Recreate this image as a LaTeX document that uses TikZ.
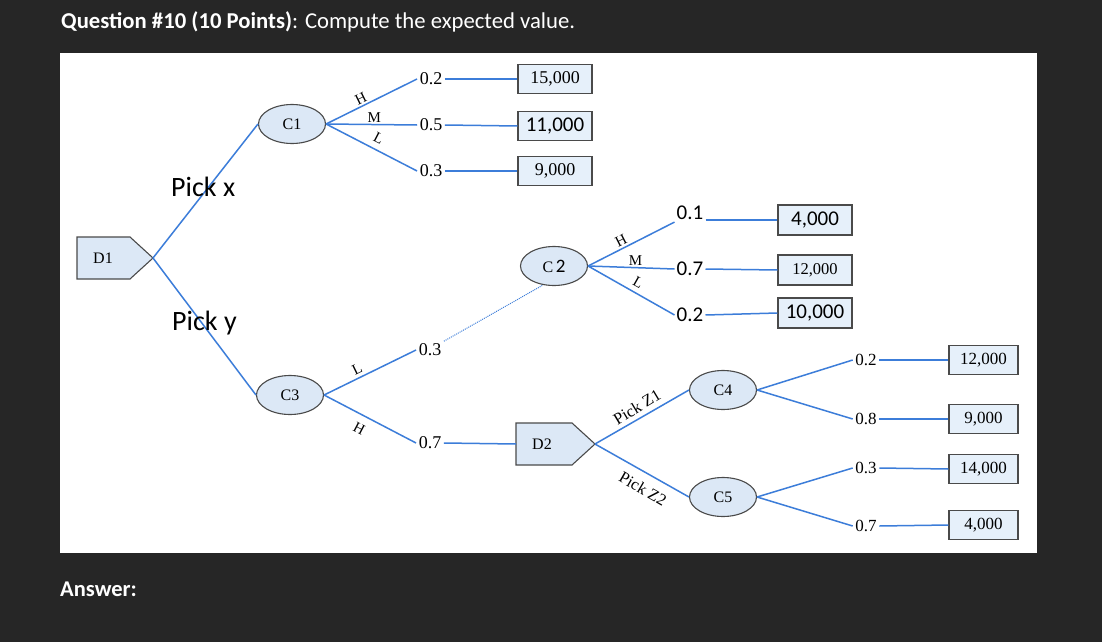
\documentclass[tikz,border=0pt]{standalone}
\usepackage{fontspec}
\setmainfont{Liberation Serif}
\newfontfamily\calib{Carlito}
\usetikzlibrary{shapes.geometric}
\definecolor{bgc}{HTML}{262626}
\definecolor{lblue}{HTML}{3C7DD9}
\definecolor{dgrey}{HTML}{4A4A4A}
\definecolor{nfill}{HTML}{DCE8F6}
\definecolor{lfill}{HTML}{E6F0FA}
\newcommand\tms{\fontsize{18}{21}\selectfont}
\newcommand\tmsn{\fontsize{16}{19}\selectfont}
\newcommand\tmss{\fontsize{17}{20}\selectfont}
\newcommand\tmsm{\fontsize{15}{18}\selectfont}
\newcommand\clb{\calib\fontsize{21}{24}\selectfont}
\tikzset{
  br/.style={draw=lblue, line width=1.5pt},
  dotbr/.style={draw=lblue, line width=1pt, densely dotted},
  chance/.style={ellipse, draw=dgrey, fill=nfill, line width=1.1pt, minimum width=67pt, minimum height=39pt, inner sep=0pt, font=\tmsn},
  dbox/.style={draw=dgrey, fill=nfill, line width=1.1pt},
  leaf/.style={draw=dgrey, fill=lfill, line width=1.3pt, minimum height=29pt, inner sep=0pt, font=\tms},
  prob/.style={inner sep=2.5pt, font=\tms},
  sprob/.style={inner sep=2.5pt, font=\tmss},
  cprob/.style={inner sep=2pt, font=\clb},
  hml/.style={inner sep=1pt, font=\tmsm},
  pick/.style={inner sep=0pt, font=\calib\fontsize{28}{32}\selectfont, anchor=base west},
  pickz/.style={inner sep=0pt, font=\fontsize{16.5}{19}\selectfont}
}
\begin{document}
\begin{tikzpicture}[x=1pt,y=-1pt]
\fill[bgc] (0,0) rectangle (1102,642);
\fill[white] (60,53) rectangle (1037,553);
\node[anchor=base west, inner sep=0pt, text=white, font=\calib\fontsize{22.7}{26}\selectfont] (title) at (61,29) {\textbf{Question \#10 (10 Points)}: Compute the expected value.};
\node[anchor=base west, inner sep=0pt, text=white, font=\calib\bfseries\fontsize{22.5}{26}\selectfont] (answer) at (60,596) {Answer:};

% decision nodes
\filldraw[dbox] (77,237) -- (130,237) -- (153,258) -- (130,279) -- (77,279) -- cycle;
\node[inner sep=0pt, font=\tmsn] (D1) at (103,258) {D1};
\coordinate (D1t) at (153,258);
\filldraw[dbox] (516,423) -- (572,423) -- (595,444) -- (572,465) -- (516,465) -- cycle;
\node[inner sep=0pt, font=\tmsn] (D2) at (542,444) {D2};
\coordinate (D2t) at (595,444);
\coordinate (D2l) at (516,444);

% chance nodes
\node[chance] (C1) at (292,124) {C1};
\node[chance] (C2) at (554,266) {C\,{\calib\fontsize{19}{22}\selectfont 2}};
\node[chance] (C3) at (290,395) {C3};
\node[chance] (C4) at (723,390) {C4};
\node[chance] (C5) at (723,497) {C5};

% D1 branches
\draw[br] (D1t) -- (C1.west);
\draw[br] (D1t) -- (C3.west);
\node[pick] (px) at (171,196) {Pick x};
\node[pick] (py) at (172,330) {Pick y};

% C1 group
\node[prob] (p11) at (431,79) {0.2};
\node[prob] (p12) at (431,125) {0.5};
\node[prob] (p13) at (431,171) {0.3};
\node[leaf, minimum width=74pt] (v11) at (555,79) {15,000};
\node[leaf, minimum width=74pt, font=\clb] (v12) at (555,126) {11,000};
\node[leaf, minimum width=74pt] (v13) at (555,171) {9,000};
\draw[br] (C1.east) -- node[hml, sloped, above=1pt, pos=0.42] (h1) {H} (p11.west);
\draw[br] (C1.east) -- node[hml, above, pos=0.53] (m1) {M} (p12.west);
\draw[br] (C1.east) -- node[hml, sloped, above=5pt, pos=0.52] (l1) {L} (p13.west);
\draw[br] (p11.east) -- (v11.west);
\draw[br] (p12.east) -- (v12.west);
\draw[br] (p13.east) -- (v13.west);

% C3 group
\node[prob] (p31) at (430,350) {0.3};
\node[prob] (p32) at (430,443) {0.7};
\draw[br] (C3.east) -- node[hml, sloped, above=2pt, pos=0.4] (l3) {L} (p31.west);
\draw[br] (C3.east) -- node[hml, sloped, below=7pt, pos=0.45] (h3) {H} (p32.west);
\draw[br] (p32.east) -- (D2l);
\draw[dotbr] (p31.north east) -- (C2.240);

% C2 group
\node[cprob] (q21) at (690,213) {0.1};
\node[cprob] (q22) at (690,269) {0.7};
\node[cprob] (q23) at (690,315) {0.2};
\node[leaf, minimum width=74pt, minimum height=30pt, font=\clb] (v21) at (815,220) {4,000};
\node[leaf, minimum width=74pt, minimum height=30pt, font=\fontsize{16.5}{19}\selectfont] (v22) at (815,270) {12,000};
\node[leaf, minimum width=74pt, minimum height=30pt, font=\clb] (v23) at (815,313) {10,000};
\draw[br] (C2.east) -- node[hml, sloped, above=1pt, pos=0.42] (h2) {H} (q21.south west);
\draw[br] (C2.east) -- node[hml, above, pos=0.55] (m2) {M} (q22.west);
\draw[br] (C2.east) -- node[hml, sloped, above=4pt, pos=0.52] (l2) {L} (q23.west);
\draw[br] (q21.east |- v21.west) -- (v21.west);
\draw[br] (q22.east) -- (v22.west);
\draw[br] (q23.east) -- (v23.west);

% D2 group
\draw[br] (D2t) -- (C4.west);
\draw[br] (D2t) -- (C5.west);
\node[pickz, rotate=31] (z1) at (637,407) {Pick Z1};
\node[pickz, rotate=-30] (z2) at (643,489) {Pick Z2};

% C4 / C5 groups
\node[sprob] (r41) at (866,360) {0.2};
\node[sprob] (r42) at (866,419) {0.8};
\node[sprob] (r51) at (866,468) {0.3};
\node[sprob] (r52) at (866,526) {0.7};
\node[leaf, minimum width=69pt, font=\tmss] (w41) at (983.5,360) {12,000};
\node[leaf, minimum width=69pt, font=\tmss] (w42) at (983.5,419) {9,000};
\node[leaf, minimum width=69pt, font=\tmss] (w51) at (983.5,469) {14,000};
\node[leaf, minimum width=69pt, font=\tmss] (w52) at (983.5,525) {4,000};
\draw[br] (C4.east) -- (r41.west);
\draw[br] (C4.east) -- (r42.west);
\draw[br] (C5.east) -- (r51.west);
\draw[br] (C5.east) -- (r52.west);
\draw[br] (r41.east) -- (w41.west);
\draw[br] (r42.east) -- (w42.west);
\draw[br] (r51.east) -- (w51.west);
\draw[br] (r52.east) -- (w52.west);
\end{tikzpicture}
\end{document}
